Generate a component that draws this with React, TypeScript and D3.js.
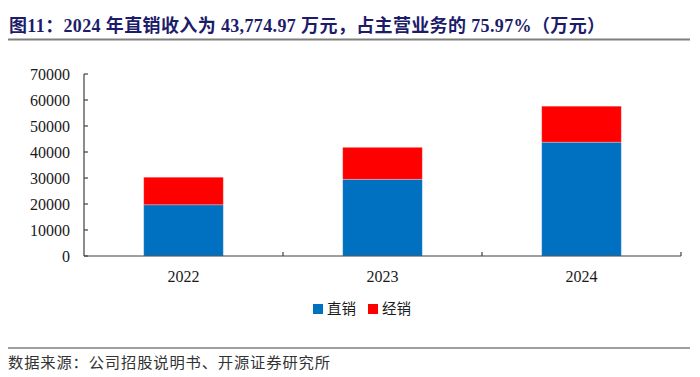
import React from "react";
import * as d3 from "d3";

const categories = ["2022", "2023", "2024"];
const directSales = [19700, 29500, 43775];
const distribution = [10600, 12300, 13847];
const seriesNames = ["直销", "经销"];
const seriesColors = ["#0070C0", "#FF0000"];
const yTicks = [0, 10000, 20000, 30000, 40000, 50000, 60000, 70000];
const title = "图11：2024 年直销收入为 43,774.97 万元，占主营业务的 75.97%（万元）";
const source = "数据来源：公司招股说明书、开源证券研究所";

const FONT = "'Liberation Serif', 'Times New Roman', 'Noto Sans CJK SC', serif";

export default function App() {
  const W = 700, H = 377;
  const x0 = 84, x1 = 681, yTop = 74, yBot = 256;
  const x = d3.scaleBand<string>().domain(categories).range([x0, x1]).paddingInner(0.6).paddingOuter(0.3);
  const band = d3.scaleBand<string>().domain(categories).range([x0, x1]);
  const y = d3.scaleLinear().domain([0, 70000]).range([yBot, yTop]);
  const stackData = categories.map((c, i) => ({ cat: c, a: directSales[i], b: distribution[i] }));
  const stacked = d3.stack<any>().keys(["a", "b"])(stackData);

  return (
    <svg width={W} height={H} style={{ position: "absolute", left: 0, top: 0, background: "#fff" }}>
      <text x={9} y={32} fontFamily={FONT} fontWeight="bold" fontSize={18} fill="#1C1C6B"
        textLength={596} lengthAdjust="spacing">{title}</text>
      <line x1={8} x2={690} y1={39.5} y2={39.5} stroke="#7f7f7f" strokeWidth={2} />

      {stacked.map((s, si) => (
        <g key={si}>
          {s.map((d, i) => (
            <rect key={i} x={x(categories[i])} width={x.bandwidth()} y={y(d[1])} height={y(d[0]) - y(d[1])}
              fill={seriesColors[si]} stroke="#ffffff" strokeOpacity={0.35} strokeWidth={0.8} />
          ))}
        </g>
      ))}

      <line x1={x0} x2={x0} y1={y(70000)} y2={yBot} stroke="#404040" strokeWidth={1.2} />
      {yTicks.map((t) => (
        <g key={t}>
          <line x1={x0} x2={x0 + 4} y1={y(t)} y2={y(t)} stroke="#404040" strokeWidth={1.2} />
          <text x={70} y={y(t)} dy="0.35em" textAnchor="end" fontFamily={FONT} fontSize={16} fill="#1a1a1a">{t}</text>
        </g>
      ))}
      <line x1={x0} x2={x1} y1={yBot} y2={yBot} stroke="#404040" strokeWidth={1.2} />
      {categories.map((c, i) => (
        <line key={"t" + i} x1={(band(c) as number) + band.bandwidth()} x2={(band(c) as number) + band.bandwidth()} y1={yBot} y2={yBot - 4} stroke="#404040" strokeWidth={1.2} />
      ))}
      {categories.map((c) => (
        <text key={c} x={(x(c) as number) + x.bandwidth() / 2} y={282} textAnchor="middle" fontFamily={FONT} fontSize={16} fill="#1a1a1a">{c}</text>
      ))}

      {seriesNames.map((n, i) => (
        <g key={n} transform={`translate(${313 + i * 55},0)`}>
          <rect x={0} y={304} width={10} height={10} fill={seriesColors[i]} />
          <text x={14} y={309} dy="0.35em" fontFamily={FONT} fontSize={14.5} fill="#1a1a1a">{n}</text>
        </g>
      ))}

      <line x1={8} x2={690} y1={348} y2={348} stroke="#7f7f7f" strokeWidth={1.5} />
      <text x={8} y={368} fontFamily={FONT} fontSize={15.3} fill="#333" textLength={322} lengthAdjust="spacing">{source}</text>
    </svg>
  );
}
